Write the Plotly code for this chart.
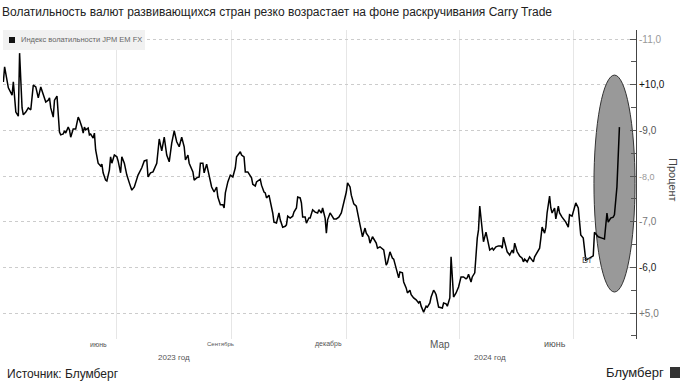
import pandas as pd
import plotly.graph_objects as go

# Day offsets from 2023-04-01 and index values
days = [0,1,4,5,7,8,9,10,12,13,
        15,16,18,20,22,24,26,28,30,32,
        34,36,37,38,40,41,43,45,46,48,
        49,50,52,53,54,56,58,60,61,63,
        64,65,66,68,69,70,72,73,74,76,
        78,79,80,82,83,85,86,87,89,91,
        92,94,95,97,99,101,103,105,108,111,
        113,115,116,118,120,123,125,127,128,129,
        131,133,135,136,137,139,141,143,145,146,
        148,149,152,153,155,157,158,160,161,163,
        165,167,169,171,172,174,176,177,178,180,
        182,184,186,187,190,191,193,194,196,199,
        200,202,203,206,207,209,210,211,213,214,
        216,217,219,221,222,224,226,227,228,230,
        232,233,235,236,238,239,240,242,243,245,
        246,248,250,252,253,255,256,258,259,260,
        262,263,265,267,269,271,273,275,276,278,
        279,281,283,284,286,288,290,291,293,294,
        296,299,300,302,305,307,308,310,312,313,
        315,317,318,320,321,323,324,326,327,329,
        331,333,334,335,337,339,340,342,343,345,
        346,347,349,351,352,353,355,356,358,359,
        360,361,363,365,367,369,371,372,373,375,
        376,378,380,381,382,384,385,387,389,390,
        392,393,395,397,399,400,401,403,404,406,
        408,409,410,412,414,416,417,418,420,422,
        424,425,426,428,430,431,432,434,435,436,
        438,439,440,442,443,445,446,448,450,451,
        453,454,456,458,459,461,462,463,465,466,
        467,470,473,474,477,480,482,484,485,487,
        489,490,492,494]

vol = [10.06,10.39,9.93,9.88,9.77,10.06,9.71,9.40,9.31,10.69,
       9.49,9.34,9.40,9.49,9.45,9.99,9.95,9.71,9.95,9.77,
       9.62,9.66,9.71,9.49,9.29,9.66,9.75,8.96,8.90,8.92,
       8.99,8.94,9.07,9.01,8.85,9.03,9.03,9.29,9.23,9.07,
       8.94,9.07,9.01,9.05,8.90,8.92,8.83,8.94,8.57,8.28,
       8.22,8.26,8.07,7.91,7.89,8.13,8.42,8.28,8.46,8.42,
       8.33,8.07,8.42,8.28,8.02,7.85,7.69,7.76,8.02,8.18,
       8.33,8.35,7.98,8.07,8.09,8.28,8.81,8.55,8.75,8.85,
       8.46,8.31,8.72,8.85,8.99,8.75,8.64,8.85,8.64,8.35,
       8.46,8.28,8.09,7.91,7.96,7.98,8.28,8.28,8.07,8.26,
       8.02,7.76,7.65,7.76,7.54,7.37,7.37,7.30,7.63,7.87,
       8.02,7.98,8.18,8.42,8.53,8.46,8.42,8.09,8.09,7.96,
       7.82,7.78,7.87,7.93,7.80,7.65,7.63,7.52,7.58,7.47,
       7.19,6.99,6.97,7.19,7.04,6.88,6.90,6.93,7.12,7.08,
       7.12,7.21,7.30,7.54,7.52,7.41,7.10,7.10,6.97,7.08,
       7.08,7.26,7.21,7.19,7.26,7.19,7.30,7.08,6.75,7.04,
       7.19,7.15,7.06,7.06,7.10,7.19,7.41,7.65,7.85,7.76,
       7.58,7.39,7.34,7.17,6.93,6.67,6.86,6.75,6.67,6.53,
       6.67,6.53,6.42,6.45,6.38,6.05,6.10,6.34,6.20,6.18,
       5.99,5.77,5.90,5.88,5.68,5.55,5.44,5.50,5.40,5.33,
       5.29,5.22,5.26,5.15,5.02,5.15,5.13,5.22,5.35,5.50,
       5.46,5.40,5.13,5.11,5.11,5.22,5.20,5.15,5.33,6.23,
       5.72,5.35,5.44,5.57,5.79,5.79,5.75,5.77,5.85,5.68,
       5.79,5.88,6.64,6.82,7.34,6.77,6.56,6.77,6.53,6.38,
       6.42,6.38,6.45,6.47,6.47,6.42,6.66,6.45,6.34,6.27,
       6.38,6.31,6.53,6.34,6.25,6.20,6.12,6.18,6.12,6.23,
       6.16,6.12,6.23,6.34,6.42,6.64,6.88,6.75,6.88,7.19,
       7.56,7.30,7.19,7.30,7.06,7.34,7.19,7.10,7.02,6.99,
       6.88,7.15,7.12,7.34,7.41,7.30,6.97,6.71,6.64,6.34,
       6.16,6.20,6.25,6.77,6.67,6.64,6.62,7.19,6.99,7.08,
       7.10,7.15,7.76,9.07]

y_tickvals = [5, 6, 7, 8, 9, 10, 11]
y_ticktext = [
    '<span style="color:#777">+5,0</span>',
    '<span style="color:#222">-6,0</span>',
    '<span style="color:#777">-7,0</span>',
    '<span style="color:#999;font-size:9px">-8,0</span>',
    '<span style="color:#555">-9,0</span>',
    '<span style="color:#111">+10,0</span>',
    '<span style="color:#999">-11,0</span>',
]
grid_dates = ["2023-07-01", "2023-10-01", "2024-01-01", "2024-04-01", "2024-07-01"]
month_labels = ["июнь", "Сентябрь", "декабрь", "Мар", "июнь"]
month_dates = ["2023-06-16", "2023-09-22", "2023-12-18", "2024-03-16", "2024-06-16"]
month_sizes = [7, 6, 7, 10, 9]
year_labels = ["2023 год", "2024 год"]
year_dates = ["2023-08-16", "2024-04-25"]

start = pd.Timestamp("2023-04-01")
dates = start + pd.to_timedelta(days, unit="D")

FONT = "Liberation Sans, Arial, sans-serif"

fig = go.Figure()
fig.add_trace(go.Scatter(x=dates, y=vol, mode="lines",
                         line=dict(color="#000000", width=1.5),
                         name="Индекс волатильности JPM EM FX",
                         showlegend=False, hoverinfo="skip"))

# highlight ellipse
fig.add_shape(type="circle", xref="x", yref="y",
              x0="2024-07-17 14:00", x1="2024-08-19 12:00", y0=5.46, y1=10.21,
              fillcolor="#999999", line=dict(color="#333333", width=1),
              layer="between")

# legend box
fig.add_shape(type="rect", xref="paper", yref="paper",
              x0=0, x1=(145 - 3) / 633, y0=(339 - 50) / 309, y1=1,
              fillcolor="#f1f1f1", line=dict(width=0), layer="above")
fig.add_shape(type="rect", xref="paper", yref="paper",
              x0=(9 - 3) / 633, x1=(15 - 3) / 633,
              y0=(339 - 43) / 309, y1=(339 - 37) / 309,
              fillcolor="#111111", line=dict(width=0), layer="above")
fig.add_annotation(xref="paper", yref="paper", x=(19 - 3) / 633, y=(339 - 40) / 309,
                   text="Индекс волатильности JPM EM FX", showarrow=False,
                   xanchor="left", yanchor="middle",
                   font=dict(family=FONT, size=7.5, color="#666666"))

# title & footer
fig.add_annotation(xref="paper", yref="paper", x=-3 / 633, y=(339 - 12) / 309,
                   text="Волатильность валют развивающихся стран резко возрастает на фоне раскручивания Carry Trade",
                   showarrow=False, xanchor="left", yanchor="middle",
                   font=dict(family=FONT, size=12, color="#222222"))
fig.add_annotation(xref="paper", yref="paper", x=2 / 633, y=(339 - 374) / 309,
                   text="Источник: Блумберг", showarrow=False,
                   xanchor="left", yanchor="middle",
                   font=dict(family=FONT, size=12, color="#222222"))
fig.add_annotation(xref="paper", yref="paper", x=(666 - 3) / 633, y=(339 - 372) / 309,
                   text="Блумберг", showarrow=False,
                   xanchor="right", yanchor="middle",
                   font=dict(family=FONT, size=13, color="#222222"))
fig.add_shape(type="rect", xref="paper", yref="paper",
              x0=(670 - 3) / 633, x1=(680 - 3) / 633,
              y0=(339 - 378) / 309, y1=(339 - 367) / 309,
              fillcolor="#333333", line=dict(width=0), layer="above")

# axis title
fig.add_annotation(xref="paper", yref="paper", x=(673 - 3) / 633, y=(339 - 180) / 309,
                   text="Процент", showarrow=False, textangle=90,
                   xanchor="center", yanchor="middle",
                   font=dict(family=FONT, size=11, color="#444444"))

# "Вт" label
fig.add_annotation(xref="x", yref="y", x="2024-07-12", y=6.15,
                   text="Вт", showarrow=False, xanchor="center", yanchor="middle",
                   font=dict(family=FONT, size=9, color="#555555"))

# month and year labels
for lab, d, s in zip(month_labels, month_dates, month_sizes):
    fig.add_annotation(xref="x", yref="paper", x=d, y=(339 - 344) / 309,
                       text=lab, showarrow=False, xanchor="center", yanchor="middle",
                       font=dict(family=FONT, size=s, color="#555555"))
for lab, d in zip(year_labels, year_dates):
    fig.add_annotation(xref="x", yref="paper", x=d, y=(339 - 357) / 309,
                       text=lab, showarrow=False, xanchor="center", yanchor="middle",
                       font=dict(family=FONT, size=8, color="#555555"))

fig.update_layout(
    width=685, height=388,
    margin=dict(l=3, r=49, t=30, b=49),
    paper_bgcolor="#ffffff", plot_bgcolor="#ffffff",
    font=dict(family=FONT),
    showlegend=False,
    xaxis=dict(type="date", range=["2023-03-31 17:00", "2024-08-20 07:00"],
               tickvals=grid_dates, showticklabels=False, ticks="",
               showgrid=True, gridcolor="#e6e6e6", gridwidth=1,
               showline=False, zeroline=False),
    yaxis=dict(side="right", range=[4.431, 11.197],
               tickvals=y_tickvals, ticktext=y_ticktext,
               tickfont=dict(family=FONT, size=10, color="#555555"),
               ticks="inside", ticklen=6, tickcolor="#555555",
               minor=dict(dtick=0.5, ticks="inside", ticklen=5, tickcolor="#555555",
                          showgrid=False),
               showgrid=True, gridcolor="#cccccc", griddash="dot", gridwidth=1,
               showline=True, linecolor="#444444", linewidth=1,
               zeroline=False),
)

fig.write_html("out.html",
               config={"displayModeBar": False},
               post_script="document.body.style.margin='0';document.body.style.padding='0';document.body.style.overflow='hidden';")
